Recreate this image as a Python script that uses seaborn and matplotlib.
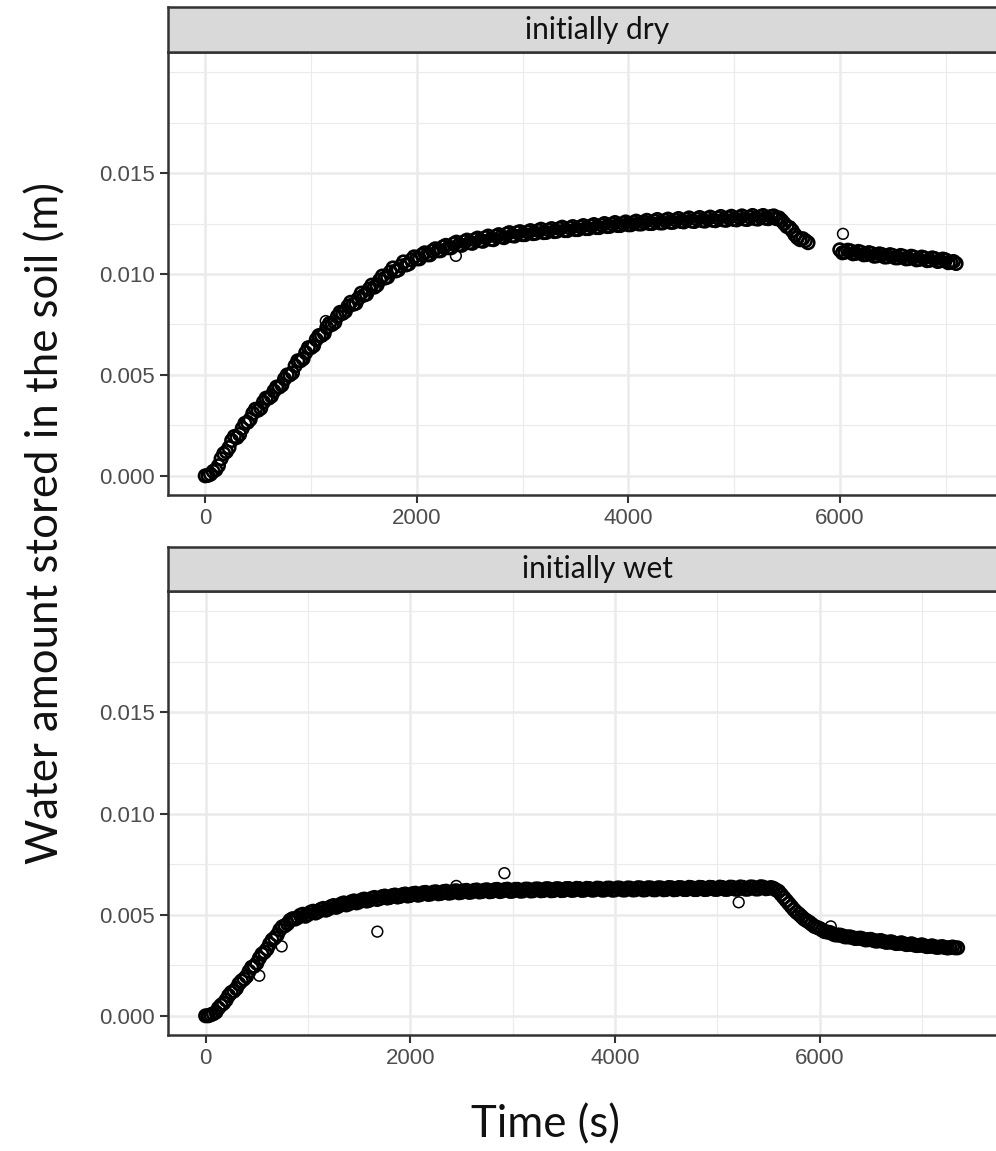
import matplotlib
matplotlib.use("Agg")
import matplotlib.pyplot as plt
from matplotlib.ticker import FormatStrFormatter
import pandas as pd
import seaborn as sns

# ---- data (time in s, water in mm) ----
dry_time = [0, 50, 100, 150, 200, 250, 300, 350, 400, 450, 500, 550, 600, 650, 700, 750,
            800, 850, 900, 950, 1000, 1050, 1100, 1150, 1200, 1250, 1300, 1350, 1400, 1450,
            1500, 1550, 1600, 1650, 1700, 1750, 1800, 1850, 1900, 1950, 2000, 2050, 2100,
            2150, 2200, 2250, 2300, 2350, 2400, 2450, 2500, 2550, 2600, 2650, 2700, 2750,
            2800, 2850, 2900, 2950, 3000, 3050, 3100, 3150, 3200, 3250, 3300, 3350, 3400,
            3450, 3500, 3550, 3600, 3650, 3700, 3750, 3800, 3850, 3900, 3950, 4000, 4050,
            4100, 4150, 4200, 4250, 4300, 4350, 4400, 4450, 4500, 4550, 4600, 4650, 4700,
            4750, 4800, 4850, 4900, 4950, 5000, 5050, 5100, 5150, 5200, 5250, 5300, 5350,
            5400, 5450, 5500, 5550, 5600, 5650, 5700,
            6000, 6050, 6100, 6150, 6200, 6250, 6300, 6350, 6400, 6450, 6500, 6550, 6600,
            6650, 6700, 6750, 6800, 6850, 6900, 6950, 7000, 7050, 7100]
dry_water = [0.00, 0.08, 0.30, 0.85, 1.20, 1.75, 1.90, 2.35, 2.65, 3.10, 3.25, 3.65, 3.85,
             4.20, 4.40, 4.80, 5.00, 5.45, 5.70, 6.10, 6.35, 6.75, 6.95, 7.35, 7.50, 7.90,
             8.05, 8.40, 8.50, 8.80, 8.95, 9.25, 9.35, 9.70, 9.80, 10.10, 10.15, 10.40,
             10.45, 10.70, 10.75, 10.95, 10.95, 11.15, 11.15, 11.35, 11.30, 11.50, 11.45,
             11.60, 11.55, 11.70, 11.65, 11.80, 11.72, 11.88, 11.85, 11.98, 11.90, 12.05,
             11.95, 12.08, 12.00, 12.15, 12.05, 12.18, 12.10, 12.25, 12.15, 12.28, 12.20,
             12.33, 12.25, 12.38, 12.30, 12.42, 12.35, 12.47, 12.40, 12.50, 12.44, 12.55,
             12.48, 12.58, 12.50, 12.62, 12.53, 12.65, 12.56, 12.67, 12.60, 12.70, 12.62,
             12.72, 12.64, 12.75, 12.66, 12.77, 12.68, 12.79, 12.70, 12.80, 12.72, 12.82,
             12.74, 12.84, 12.76, 12.85, 12.74, 12.65, 12.35, 12.15, 11.80, 11.75, 11.55,
             11.20, 11.08, 11.15, 11.02, 11.08, 10.96, 11.02, 10.90, 10.96, 10.85, 10.92,
             10.80, 10.88, 10.76, 10.84, 10.72, 10.80, 10.68, 10.76, 10.65, 10.70, 10.58,
             10.52]

# readings in between the ones above (the band is dense)
dry_time_mid = [25, 75, 125, 175, 225, 275, 325, 375, 425, 475,
                525, 575, 625, 675, 725, 775, 825, 875, 925, 975,
                1025, 1075, 1125, 1175, 1225, 1275, 1325, 1375, 1425, 1475,
                1525, 1575, 1625, 1675, 1725, 1775, 1825, 1875, 1925, 1975,
                2025, 2075, 2125, 2175, 2225, 2275, 2325, 2375, 2425, 2475,
                2525, 2575, 2625, 2675, 2725, 2775, 2825, 2875, 2925, 2975,
                3025, 3075, 3125, 3175, 3225, 3275, 3325, 3375, 3425, 3475,
                3525, 3575, 3625, 3675, 3725, 3775, 3825, 3875, 3925, 3975,
                4025, 4075, 4125, 4175, 4225, 4275, 4325, 4375, 4425, 4475,
                4525, 4575, 4625, 4675, 4725, 4775, 4825, 4875, 4925, 4975,
                5025, 5075, 5125, 5175, 5225, 5275, 5325, 5375, 5425, 5475,
                5525, 5575, 5625, 5675,
                6025, 6075, 6125, 6175, 6225, 6275, 6325, 6375, 6425, 6475,
                6525, 6575, 6625, 6675, 6725, 6775, 6825, 6875, 6925, 6975,
                7025, 7075]
dry_water_mid = [0.02, 0.22, 0.50, 1.10, 1.40, 1.95, 2.05, 2.60, 2.80, 3.30,
                 3.35, 3.85, 3.95, 4.40, 4.50, 5.00, 5.10, 5.70, 5.80, 6.35,
                 6.45, 6.95, 7.05, 7.55, 7.60, 8.10, 8.15, 8.60, 8.55, 9.05,
                 9.00, 9.45, 9.45, 9.90, 9.85, 10.30, 10.20, 10.60, 10.50, 10.85,
                 10.75, 11.05, 10.95, 11.25, 11.15, 11.42, 11.30, 11.58, 11.42, 11.68,
                 11.52, 11.78, 11.62, 11.88, 11.70, 11.95, 11.80, 12.05, 11.88, 12.10,
                 11.95, 12.15, 12.02, 12.22, 12.06, 12.25, 12.12, 12.32, 12.15, 12.35,
                 12.20, 12.40, 12.25, 12.45, 12.30, 12.50, 12.36, 12.55, 12.40, 12.58,
                 12.44, 12.62, 12.48, 12.66, 12.50, 12.70, 12.53, 12.72, 12.56, 12.75,
                 12.58, 12.78, 12.60, 12.80, 12.62, 12.82, 12.64, 12.85, 12.66, 12.86,
                 12.68, 12.88, 12.70, 12.90, 12.72, 12.90, 12.74, 12.88, 12.78, 12.50,
                 12.30, 11.95, 11.70, 11.65,
                 11.05, 11.18, 11.00, 11.12, 10.95, 11.06, 10.88, 11.00, 10.84, 10.96,
                 10.80, 10.92, 10.75, 10.88, 10.70, 10.84, 10.66, 10.80, 10.62, 10.74,
                 10.56, 10.62]

# isolated readings away from the band
dry_out_time = [1140, 2370, 6030]
dry_out_water = [7.67, 10.90, 11.99]

wet_time = [0, 50, 100, 150, 200, 250, 300, 350, 400, 450, 500, 550, 600, 650, 700, 750,
            800, 850, 900, 950, 1000, 1050, 1100, 1150, 1200, 1250, 1300, 1350, 1400, 1450,
            1500, 1550, 1600, 1650, 1700, 1750, 1800, 1850, 1900, 1950, 2000, 2050, 2100,
            2150, 2200, 2250, 2300, 2350, 2400, 2450, 2500, 2550, 2600, 2650, 2700, 2750,
            2800, 2850, 2900, 2950, 3000, 3050, 3100, 3150, 3200, 3250, 3300, 3350, 3400,
            3450, 3500, 3550, 3600, 3650, 3700, 3750, 3800, 3850, 3900, 3950, 4000, 4050,
            4100, 4150, 4200, 4250, 4300, 4350, 4400, 4450, 4500, 4550, 4600, 4650, 4700,
            4750, 4800, 4850, 4900, 4950, 5000, 5050, 5100, 5150, 5200, 5250, 5300, 5350,
            5400, 5450, 5500, 5550, 5600, 5650, 5700, 5750, 5800, 5850, 5900, 5950, 6000,
            6050, 6100, 6150, 6200, 6250, 6300, 6350, 6400, 6450, 6500, 6550, 6600, 6650,
            6700, 6750, 6800, 6850, 6900, 6950, 7000, 7050, 7100, 7150, 7200, 7250, 7300,
            7350]
wet_water = [0.00, 0.05, 0.18, 0.52, 0.78, 1.15, 1.35, 1.72, 1.95, 2.40, 2.60, 3.05, 3.30,
             3.75, 4.00, 4.40, 4.55, 4.80, 4.85, 5.02, 5.00, 5.17, 5.15, 5.31, 5.28, 5.45,
             5.42, 5.58, 5.53, 5.68, 5.63, 5.77, 5.71, 5.85, 5.79, 5.92, 5.85, 5.97, 5.90,
             6.02, 5.95, 6.06, 5.99, 6.10, 6.02, 6.13, 6.05, 6.16, 6.08, 6.18, 6.10, 6.20,
             6.12, 6.22, 6.14, 6.23, 6.15, 6.25, 6.17, 6.26, 6.16, 6.25, 6.17, 6.26, 6.18,
             6.27, 6.19, 6.28, 6.19, 6.28, 6.20, 6.29, 6.21, 6.29, 6.21, 6.29, 6.22, 6.30,
             6.22, 6.31, 6.22, 6.31, 6.22, 6.31, 6.23, 6.32, 6.23, 6.32, 6.23, 6.32, 6.24,
             6.33, 6.24, 6.33, 6.24, 6.33, 6.24, 6.34, 6.25, 6.34, 6.25, 6.34, 6.25, 6.35,
             6.26, 6.35, 6.26, 6.36, 6.27, 6.36, 6.30, 6.30, 6.15, 5.85, 5.55, 5.25, 5.02,
             4.78, 4.62, 4.42, 4.32, 4.16, 4.12, 4.00, 3.99, 3.90, 3.90, 3.82, 3.84, 3.75,
             3.78, 3.69, 3.72, 3.63, 3.66, 3.57, 3.61, 3.52, 3.56, 3.47, 3.51, 3.42, 3.46,
             3.38, 3.42, 3.35, 3.40, 3.36]

wet_time_mid = [25, 75, 125, 175, 225, 275, 325, 375, 425, 475,
                525, 575, 625, 675, 725, 775, 825, 875, 925, 975,
                1025, 1075, 1125, 1175, 1225, 1275, 1325, 1375, 1425, 1475,
                1525, 1575, 1625, 1675, 1725, 1775, 1825, 1875, 1925, 1975,
                2025, 2075, 2125, 2175, 2225, 2275, 2325, 2375, 2425, 2475,
                2525, 2575, 2625, 2675, 2725, 2775, 2825, 2875, 2925, 2975,
                3025, 3075, 3125, 3175, 3225, 3275, 3325, 3375, 3425, 3475,
                3525, 3575, 3625, 3675, 3725, 3775, 3825, 3875, 3925, 3975,
                4025, 4075, 4125, 4175, 4225, 4275, 4325, 4375, 4425, 4475,
                4525, 4575, 4625, 4675, 4725, 4775, 4825, 4875, 4925, 4975,
                5025, 5075, 5125, 5175, 5225, 5275, 5325, 5375, 5425, 5475,
                5525, 5575, 5625, 5675, 5725, 5775, 5825, 5875, 5925, 5975,
                6025, 6075, 6125, 6175, 6225, 6275, 6325, 6375, 6425, 6475,
                6525, 6575, 6625, 6675, 6725, 6775, 6825, 6875, 6925, 6975,
                7025, 7075, 7125, 7175, 7225, 7275, 7325]
wet_water_mid = [0.00, 0.10, 0.38, 0.62, 1.00, 1.22, 1.58, 1.82, 2.20, 2.45,
                 2.85, 3.15, 3.55, 3.85, 4.25, 4.45, 4.72, 4.78, 4.97, 4.92,
                 5.12, 5.08, 5.26, 5.22, 5.40, 5.36, 5.53, 5.48, 5.64, 5.58,
                 5.73, 5.67, 5.81, 5.75, 5.89, 5.82, 5.94, 5.87, 5.99, 5.92,
                 6.04, 5.96, 6.08, 6.00, 6.11, 6.03, 6.14, 6.06, 6.16, 6.08,
                 6.18, 6.10, 6.20, 6.12, 6.21, 6.13, 6.23, 6.14, 6.24, 6.15,
                 6.25, 6.16, 6.26, 6.17, 6.27, 6.18, 6.28, 6.18, 6.28, 6.19,
                 6.29, 6.20, 6.30, 6.20, 6.30, 6.21, 6.31, 6.21, 6.31, 6.21,
                 6.32, 6.22, 6.32, 6.22, 6.33, 6.22, 6.33, 6.23, 6.33, 6.23,
                 6.34, 6.23, 6.34, 6.24, 6.35, 6.24, 6.35, 6.24, 6.35, 6.25,
                 6.36, 6.25, 6.36, 6.26, 6.37, 6.26, 6.37, 6.27, 6.38, 6.28,
                 6.34, 6.22, 6.00, 5.70, 5.40, 5.12, 4.90, 4.70, 4.52, 4.37,
                 4.24, 4.14, 4.06, 3.99, 3.95, 3.90, 3.86, 3.83, 3.80, 3.76,
                 3.73, 3.70, 3.67, 3.64, 3.61, 3.58, 3.56, 3.53, 3.50, 3.48,
                 3.46, 3.43, 3.41, 3.40, 3.38, 3.37, 3.36]

wet_out_time = [10, 25, 524, 743, 1678, 2450, 2920, 5210, 6110]
wet_out_water = [0.00, 0.00, 1.98, 3.43, 4.16, 6.42, 7.05, 5.61, 4.42]

panel_names = ["initially dry", "initially wet"]
x_major = [0, 2000, 4000, 6000]
x_minor = [1000, 3000, 5000, 7000]
y_major = [0.0, 0.005, 0.010, 0.015]
y_minor = [0.0025, 0.0075, 0.0125, 0.0175, 0.020]


def frame(t, w):
    return pd.DataFrame({"time": t, "water": [v / 1000 for v in w]})


dry = frame(dry_time + dry_time_mid, dry_water + dry_water_mid)
wet = frame(wet_time + wet_time_mid, wet_water + wet_water_mid)
dry_out = frame(dry_out_time, dry_out_water)
wet_out = frame(wet_out_time, wet_out_water)

sns.set_theme(style="white")
plt.rcParams["font.family"] = ["Liberation Sans", "DejaVu Sans"]

W, H = 996, 1151
fig = plt.figure(figsize=(W / 100, H / 100), dpi=100)


def box(x0, y0, x1, y1):
    return [x0 / W, 1 - y1 / H, (x1 - x0) / W, (y1 - y0) / H]


# panel pixel boxes: (band, outliers, panel top, panel bottom, strip top, xlim)
layout = [
    (dry, dry_out, 52, 495, 7, (-352, 7515)),
    (wet, wet_out, 591, 1035, 547, (-368, 7764)),
]

for name, (df, out, p0, p1, s0, xlim) in zip(panel_names, layout):
    ax = fig.add_axes(box(168, p0, 1000, p1))
    ax.set_facecolor("white")
    ax.set_xticks(x_major)
    ax.set_xticks(x_minor, minor=True)
    ax.set_yticks(y_major)
    ax.set_yticks(y_minor, minor=True)
    ax.yaxis.set_major_formatter(FormatStrFormatter("%.3f"))
    ax.grid(which="major", color="#EBEBEB", linewidth=1.8)
    ax.grid(which="minor", color="#EBEBEB", linewidth=0.8)
    ax.set_axisbelow(True)
    ax.tick_params(which="minor", length=0)
    ax.tick_params(which="major", length=5.5, width=1.5, color="#333333",
                   labelsize=16, labelcolor="#4D4D4D", pad=4,
                   bottom=True, left=True)
    sns.scatterplot(data=df, x="time", y="water", ax=ax, marker="o",
                    facecolor="none", edgecolor="black", s=80, linewidth=1.9,
                    legend=False)
    sns.scatterplot(data=out, x="time", y="water", ax=ax, marker="o",
                    facecolor="none", edgecolor="black", s=60, linewidth=1.1,
                    legend=False)
    ax.set_xlim(*xlim)
    ax.set_ylim(-0.00095, 0.021)
    ax.set_xlabel("")
    ax.set_ylabel("")
    for sp in ax.spines.values():
        sp.set_color("#333333")
        sp.set_linewidth(1.8)

    sax = fig.add_axes(box(168, s0, 1000, p0))
    sax.set_facecolor("#D9D9D9")
    sax.set_xticks([])
    sax.set_yticks([])
    for sp in sax.spines.values():
        sp.set_color("#333333")
        sp.set_linewidth(1.8)
    sax.text((597 - 168) / 832, 0.5, name, transform=sax.transAxes,
             ha="center", va="center", fontsize=21.5,
             family=["Lato", "DejaVu Sans"], color="#111111")

fig.text(46 / W, 1 - 523 / H, "Water amount stored in the soil (m)", rotation=90,
         ha="center", va="center", fontsize=31.5, family=["Lato", "DejaVu Sans"],
         color="#111111")
fig.text(545 / W, 1 - 1125 / H, "Time (s)", ha="center", va="center",
         fontsize=31.5, family=["Lato", "DejaVu Sans"], color="#111111")

fig.savefig("out.png", dpi=100)
